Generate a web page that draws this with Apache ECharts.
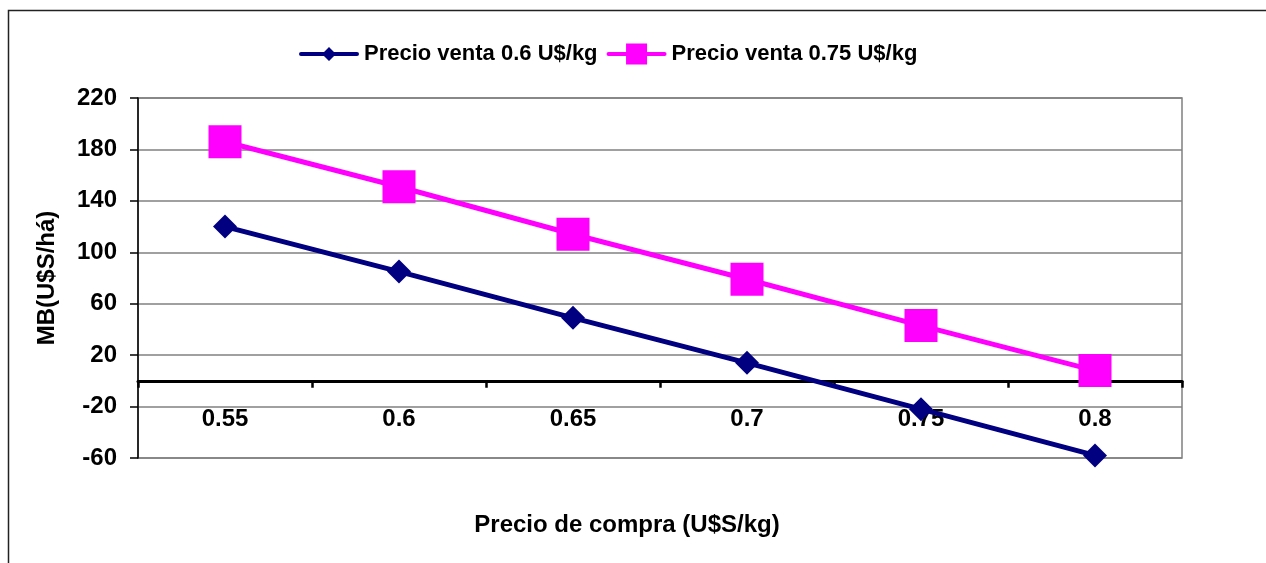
<!DOCTYPE html>
<html>
<head>
<meta charset="utf-8">
<script src="https://cdn.jsdelivr.net/npm/echarts@6/dist/echarts.min.js"></script>
<style>
  html, body { margin: 0; padding: 0; background: #fff; }
  #chart { width: 1266px; height: 563px; }
</style>
</head>
<body>
<div id="chart"></div>
<script>
// datos
const categorias = ['0.55', '0.6', '0.65', '0.7', '0.75', '0.8'];
const venta060 = [120, 85, 49, 14, -22, -58];
const venta075 = [186, 151, 114, 79, 43, 8];
const nombres = ['Precio venta 0.6 U$/kg', 'Precio venta 0.75 U$/kg'];

const fuente = '"Liberation Sans", Arial, sans-serif';
const chart = echarts.init(document.getElementById('chart'));

const option = {
  animation: false,
  backgroundColor: '#fff',
  graphic: [{
    type: 'rect',
    shape: { x: 8.5, y: 10.5, width: 1400, height: 700 },
    style: { fill: 'none', stroke: '#222', lineWidth: 1.5 },
    silent: true
  }],
  legend: {
    left: 294,
    top: 38,
    itemWidth: 60,
    itemHeight: 22,
    itemGap: 9,
    textStyle: { fontFamily: fuente, fontWeight: 'bold', fontSize: 22, color: '#000' },
    data: [
      { name: nombres[0], icon: 'path://M2,9L58,9A2,2 0 0 1 58,13L2,13A2,2 0 0 1 2,9Z M30,4L37,11L30,18L23,11Z' },
      { name: nombres[1], icon: 'path://M2,9L58,9A2,2 0 0 1 58,13L2,13A2,2 0 0 1 2,9Z M19.5,0.5L40.5,0.5L40.5,21.5L19.5,21.5Z' }
    ]
  },
  grid: {
    left: 138,
    top: 98,
    width: 1044,
    height: 360,
    outerBoundsMode: 'none',
    containLabel: false,
    show: true,
    borderColor: '#808080',
    borderWidth: 1.5,
    backgroundColor: '#fff'
  },
  xAxis: {
    type: 'category',
    data: categorias,
    boundaryGap: true,
    name: 'Precio de compra (U$S/kg)',
    nameLocation: 'middle',
    nameGap: 55,
    nameTextStyle: { fontFamily: fuente, fontWeight: 'bold', fontSize: 24, color: '#000', padding: [0, 66, 0, 0] },
    axisLine: { onZero: true, lineStyle: { color: '#000', width: 3 } },
    axisTick: { show: true, length: 7, lineStyle: { color: '#000', width: 2.5 } },
    axisLabel: { margin: -51, fontFamily: fuente, fontWeight: 'bold', fontSize: 24, color: '#000' },
    splitLine: { show: false }
  },
  yAxis: {
    type: 'value',
    min: -60,
    max: 220,
    interval: 40,
    name: 'MB(U$S/há)',
    nameLocation: 'middle',
    nameGap: 79,
    nameRotate: 90,
    nameTextStyle: { fontFamily: fuente, fontWeight: 'bold', fontSize: 24, color: '#000' },
    axisLine: { show: true, onZero: false, lineStyle: { color: '#000', width: 1.5 } },
    axisTick: { show: true, length: 8, lineStyle: { color: '#000', width: 1.5 } },
    axisLabel: { margin: 21, fontFamily: fuente, fontWeight: 'bold', fontSize: 24, color: '#000' },
    splitLine: { lineStyle: { color: '#808080', width: 1.5 } }
  },
  series: [
    {
      name: nombres[0],
      type: 'line',
      data: venta060,
      symbol: 'diamond',
      symbolSize: 24,
      z: 3,
      lineStyle: { color: '#000080', width: 5 },
      itemStyle: { color: '#000080' }
    },
    {
      name: nombres[1],
      type: 'line',
      data: venta075,
      symbol: 'rect',
      symbolSize: 33,
      z: 2,
      lineStyle: { color: '#ff00ff', width: 5 },
      itemStyle: { color: '#ff00ff' }
    }
  ]
};

chart.setOption(option);
</script>
</body>
</html>
